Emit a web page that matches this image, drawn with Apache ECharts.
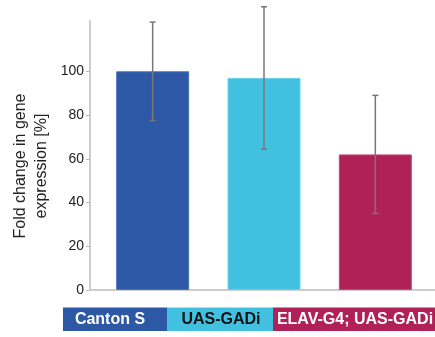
<!DOCTYPE html>
<html>
<head>
<meta charset="utf-8">
<script src="https://cdn.jsdelivr.net/npm/echarts@6/dist/echarts.min.js"></script>
<style>
  html, body { margin: 0; padding: 0; background: #fff; }
  #chart { width: 435px; height: 337px; }
</style>
</head>
<body>
<div id="chart"></div>
<script>
// Genotypes, mean fold change (%) and error (±)
const categories = ['Canton S', 'UAS-GADi', 'ELAV-G4; UAS-GADi'];
const means = [100, 97, 62];
const errors = [22.5, 32.5, 27];
const yTicks = [0, 20, 40, 60, 80, 100];
const colors = ['#2D58A6', '#41C0E0', '#B02257'];
const edgeColors = ['#4d74b8', '#6fd0ea', '#c04a78'];
const stripTextColors = ['#ffffff', '#111111', '#ffffff'];

const Y_MAX = 123;
const font = 'Liberation Sans, Arial, sans-serif';

const chart = echarts.init(document.getElementById('chart'), null, { renderer: 'canvas' });

// error-bar data: [index, low, high]
const errData = means.map((m, i) => [i, m - errors[i], m + errors[i]]);

// genotype strip below the plot
const stripBoxes = [
  { x: 63, w: 104 },
  { x: 167, w: 106 },
  { x: 273, w: 162 }
];
const stripGraphics = [];
categories.forEach((c, i) => {
  const b = stripBoxes[i];
  stripGraphics.push({
    type: 'rect',
    shape: { x: b.x, y: 307.5, width: b.w, height: 23.5 },
    style: { fill: colors[i] },
    silent: true
  });
  stripGraphics.push({
    type: 'text',
    x: b.x + b.w / 2 + (i === 0 ? -5 : 1),
    y: 319.5,
    style: {
      text: c,
      fill: stripTextColors[i],
      font: 'bold 16px ' + font,
      textAlign: 'center',
      textVerticalAlign: 'middle'
    },
    silent: true
  });
});

const option = {
  animation: false,
  backgroundColor: '#ffffff',
  grid: [
    { left: 97, right: 4, top: 21, bottom: 47 },
    { left: 90, right: 0, top: 21, bottom: 47 }
  ],
  xAxis: [
    {
      type: 'category', gridIndex: 0, data: categories,
      axisLine: { show: false }, axisTick: { show: false }, axisLabel: { show: false }
    },
    {
      type: 'value', gridIndex: 1, min: 0, max: 1,
      axisLine: { show: true, lineStyle: { color: '#cccccc', width: 2 } },
      axisTick: { show: false }, axisLabel: { show: false }, splitLine: { show: false }
    }
  ],
  yAxis: [
    {
      type: 'value', gridIndex: 0, min: 0, max: Y_MAX,
      show: false, splitLine: { show: false }
    },
    {
      type: 'value', gridIndex: 1, min: 0, max: Y_MAX, interval: 20,
      axisLine: { show: true, lineStyle: { color: '#cccccc', width: 2 } },
      axisTick: {
        show: true, length: 4, customValues: yTicks,
        lineStyle: { color: '#bbbbbb', width: 1 }
      },
      axisLabel: {
        customValues: yTicks,
        color: '#222222', fontSize: 14, fontFamily: font, margin: 6
      },
      splitLine: { show: false }
    }
  ],
  graphic: [
    {
      type: 'text',
      x: 31, y: 166,
      rotation: Math.PI / 2,
      style: {
        text: 'Fold change in gene\nexpression [%]',
        fill: '#222222',
        font: '16px ' + font,
        lineHeight: 21,
        textAlign: 'center',
        textVerticalAlign: 'middle'
      },
      silent: true
    }
  ].concat(stripGraphics),
  series: [
    {
      type: 'bar',
      xAxisIndex: 0, yAxisIndex: 0,
      barWidth: 73,
      data: means.map((v, i) => ({
        value: v,
        itemStyle: { color: colors[i], borderColor: edgeColors[i], borderWidth: 1 }
      })),
      silent: true
    },
    {
      type: 'custom',
      xAxisIndex: 0, yAxisIndex: 0,
      clip: false,
      silent: true,
      z: 5,
      data: errData,
      renderItem: function (params, api) {
        const idx = api.value(0);
        const lo = api.coord([idx, api.value(1)]);
        const hi = api.coord([idx, api.value(2)]);
        const half = 3;
        const style = { stroke: '#777777', lineWidth: 1.5 };
        return {
          type: 'group',
          children: [
            { type: 'line', shape: { x1: hi[0], y1: hi[1], x2: lo[0], y2: lo[1] }, style: style },
            { type: 'line', shape: { x1: hi[0] - half, y1: hi[1], x2: hi[0] + half, y2: hi[1] }, style: style },
            { type: 'line', shape: { x1: lo[0] - half, y1: lo[1], x2: lo[0] + half, y2: lo[1] }, style: style }
          ]
        };
      }
    }
  ]
};

chart.setOption(option);
</script>
</body>
</html>
